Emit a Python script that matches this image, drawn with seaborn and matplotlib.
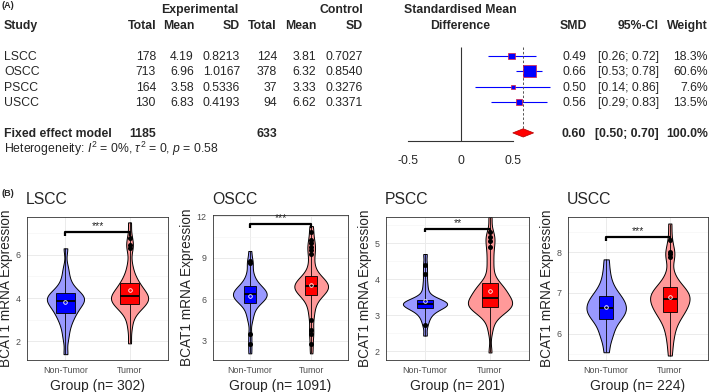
import numpy as np
import pandas as pd
import matplotlib
matplotlib.use("Agg")
import matplotlib.pyplot as plt
from matplotlib.patches import Polygon
from matplotlib.ticker import FixedLocator
import seaborn as sns

# ---------------- (A) meta-analysis data ----------------
studies = ["LSCC", "OSCC", "PSCC", "USCC"]
exp_total = [178, 713, 164, 130]
exp_mean = [4.19, 6.96, 3.58, 6.83]
exp_sd = [0.8213, 1.0167, 0.5336, 0.4193]
ctrl_total = [124, 378, 37, 94]
ctrl_mean = [3.81, 6.32, 3.33, 6.62]
ctrl_sd = [0.7027, 0.8540, 0.3276, 0.3371]
smd = [0.49, 0.66, 0.50, 0.56]
ci_low = [0.26, 0.53, 0.14, 0.29]
ci_high = [0.72, 0.78, 0.86, 0.83]
weight = [18.3, 60.6, 7.6, 13.5]
fixed_label = "Fixed effect model"
fixed_exp_total = 1185
fixed_ctrl_total = 633
fixed_smd = 0.60
fixed_ci_low = 0.50
fixed_ci_high = 0.70
fixed_weight = 100.0
forest_ticks = [-0.5, 0, 0.5]
forest_tick_labels = ["-0.5", "0", "0.5"]
heterogeneity = r"Heterogeneity: $I^2$ = 0%, $\tau^2$ = 0, $p$ = 0.58"

# ---------------- (B) expression data ----------------
panel_names = ["LSCC", "OSCC", "PSCC", "USCC"]
group_names = ["Non-Tumor", "Tumor"]
group_n = [302, 1091, 201, 224]

lscc_normal = [1.4, 2.1, 2.5, 2.8, 3.0, 3.15, 3.3, 3.4, 3.5, 3.6, 3.7, 3.78, 3.85,
               3.9, 3.95, 4.0, 4.05, 4.1, 4.2, 4.25, 4.35, 4.5, 4.7, 5.0, 5.4, 6.3]
lscc_tumor = [1.9, 2.6, 3.0, 3.3, 3.45, 3.55, 3.6, 3.65, 3.72, 3.8, 3.88, 3.9, 3.95,
              4.0, 4.02, 4.05, 4.1, 4.15, 4.2, 4.28, 4.36, 4.45, 4.55, 4.62, 4.7,
              4.85, 5.0, 5.25, 5.6, 6.3, 6.45, 6.8, 7.5]
lscc_normal_out = []
lscc_tumor_out = [6.3, 6.45, 6.8]

oscc_normal = [2.1, 2.8, 3.5, 4.4, 4.8, 5.1, 5.35, 5.55, 5.7, 5.8, 5.88, 5.95, 6.02,
               6.09, 6.16, 6.22, 6.28, 6.33, 6.38, 6.44, 6.5, 6.56, 6.62, 6.69, 6.76,
               6.84, 6.92, 7.02, 7.15, 7.3, 7.5, 7.75, 8.1, 8.6, 8.8, 9.5]
oscc_tumor = [2.1, 2.8, 3.5, 3.8, 4.5, 4.9, 5.25, 5.55, 5.8, 6.0, 6.15, 6.27, 6.35,
              6.42, 6.5, 6.57, 6.63, 6.69, 6.75, 6.8, 6.85, 6.9, 6.94, 6.98, 7.03,
              7.08, 7.14, 7.2, 7.27, 7.34, 7.41, 7.48, 7.55, 7.62, 7.75, 7.95, 8.2,
              8.5, 8.9, 9.3, 9.55, 9.8, 10.05, 10.3, 10.9, 11.3]
oscc_normal_out = [2.8, 3.5, 8.6, 8.8]
oscc_tumor_out = [2.8, 3.5, 3.8, 4.5, 9.3, 9.55, 9.8, 10.05, 10.3, 10.9]

pscc_normal = [2.43, 2.72, 2.88, 2.98, 3.06, 3.12, 3.17, 3.2, 3.23, 3.25, 3.27, 3.29,
               3.3, 3.31, 3.34, 3.35, 3.36, 3.38, 3.39, 3.41, 3.43, 3.55, 3.7, 3.9,
               4.15, 4.4, 4.7]
pscc_tumor = [1.96, 2.55, 2.8, 2.95, 3.03, 3.08, 3.12, 3.16, 3.19, 3.22, 3.24, 3.26,
              3.28, 3.3, 3.32, 3.35, 3.38, 3.41, 3.44, 3.47, 3.5, 3.54, 3.58, 3.62,
              3.67, 3.7, 3.74, 3.78, 3.82, 3.86, 3.95, 4.1, 4.3, 4.5, 4.7, 4.9, 5.05,
              5.18, 5.3, 5.73]
pscc_normal_out = [2.72, 4.15, 4.4]
pscc_tumor_out = [4.9, 5.05, 5.18, 5.3]

uscc_normal = [5.54, 5.8, 5.95, 6.05, 6.16, 6.24, 6.32, 6.37, 6.42, 6.46, 6.5, 6.54,
               6.58, 6.61, 6.65, 6.69, 6.73, 6.77, 6.81, 6.86, 6.9, 6.95, 7.02, 7.1,
               7.2, 7.35, 7.55, 7.82]
uscc_tumor = [5.46, 5.75, 5.95, 6.1, 6.22, 6.32, 6.4, 6.46, 6.5, 6.54, 6.58, 6.62,
              6.66, 6.7, 6.74, 6.78, 6.81, 6.84, 6.87, 6.9, 6.93, 6.96, 6.99, 7.02,
              7.05, 7.08, 7.12, 7.18, 7.26, 7.36, 7.5, 7.88, 7.94, 8.0, 8.29, 8.7]
uscc_normal_out = []
uscc_tumor_out = [7.88, 7.94, 8.0, 8.29]

sig_y = [7.05, 11.45, 5.4, 8.37]
sig_labels = ["***", "***", "**", "***"]
y_ticks = [[2, 4, 6], [3, 6, 9, 12], [2, 3, 4, 5], [6, 7, 8]]
y_limits = [(1.13, 7.75), (1.62, 12.1), (1.75, 5.73), (5.35, 8.86)]

# ---------------- style ----------------
sns.set_style("white")
plt.rcParams["font.family"] = ["Liberation Sans", "DejaVu Sans"]
plt.rcParams["mathtext.fontset"] = "custom"
plt.rcParams["mathtext.rm"] = "Liberation Sans"
plt.rcParams["mathtext.it"] = "Liberation Sans:italic"
plt.rcParams["mathtext.bf"] = "Liberation Sans:bold"

W, H = 709, 392
fig = plt.figure(figsize=(W / 100, H / 100), dpi=100)
FS = 8.8


def T(x, y, s, ha="left", size=FS, **kw):
    fig.text(x / W, 1 - (y + 1) / H, s, ha=ha, va="center", fontsize=size, **kw)


def add_ax(l, r, t, b):
    return fig.add_axes([l / W, 1 - b / H, (r - l) / W, (b - t) / H])


# ---------------- (A) table ----------------
T(2, 5, "(A)", size=6.5, weight="bold")
T(200, 9, "Experimental", ha="center", weight="bold")
T(363, 9, "Control", ha="right", weight="bold")
T(460, 9, "Standardised Mean", ha="center", weight="bold")
hy = 25
T(4, hy, "Study", weight="bold")
T(156, hy, "Total", ha="right", weight="bold")
T(194, hy, "Mean", ha="right", weight="bold")
T(240, hy, "SD", ha="right", weight="bold")
T(277, hy, "Total", ha="right", weight="bold")
T(316, hy, "Mean", ha="right", weight="bold")
T(363, hy, "SD", ha="right", weight="bold")
T(460, hy, "Difference", ha="center", weight="bold")
T(573, hy, "SMD", ha="center", weight="bold")
T(659, hy, "95%-CI", ha="right", weight="bold")
T(708, hy, "Weight", ha="right", weight="bold")

row_px = [56, 71, 87, 102]
for i, s in enumerate(studies):
    y = row_px[i]
    T(4, y, s)
    T(156, y, f"{exp_total[i]}", ha="right")
    T(194, y, f"{exp_mean[i]:.2f}", ha="right")
    T(240, y, f"{exp_sd[i]:.4f}", ha="right")
    T(277, y, f"{ctrl_total[i]}", ha="right")
    T(316, y, f"{ctrl_mean[i]:.2f}", ha="right")
    T(363, y, f"{ctrl_sd[i]:.4f}", ha="right")
    T(586, y, f"{smd[i]:.2f}", ha="right")
    T(659, y, f"[{ci_low[i]:.2f}; {ci_high[i]:.2f}]", ha="right")
    T(708, y, f"{weight[i]:.1f}%", ha="right")

fy = 133
T(4, fy, fixed_label, weight="bold")
T(156, fy, f"{fixed_exp_total}", ha="right", weight="bold")
T(277, fy, f"{fixed_ctrl_total}", ha="right", weight="bold")
T(586, fy, f"{fixed_smd:.2f}", ha="right", weight="bold")
T(659, fy, f"[{fixed_ci_low:.2f}; {fixed_ci_high:.2f}]", ha="right", weight="bold")
T(708, fy, f"{fixed_weight:.1f}%", ha="right", weight="bold")
T(4, 148, heterogeneity)

# ---------------- (A) forest plot ----------------
axf = add_ax(380, 560, 40.5, 141)
x0px, upx = 460.5, 104.5
axf.set_xlim((380 - x0px) / upx, (560 - x0px) / upx)
axf.set_ylim(6.526, 0)
rows = np.arange(1, len(studies) + 1)
axf.hlines(rows, ci_low, ci_high, color="#0000FF", lw=0.8, zorder=2)
forest_df = pd.DataFrame({"smd": smd, "row": rows, "weight": weight})
sns.scatterplot(data=forest_df, x="smd", y="row", size="weight", sizes=(0, 124.5),
                size_norm=(0, 100), marker="s", color="#0000FF", edgecolor="#E0203A",
                linewidth=0.5, legend=False, ax=axf, zorder=3)
fixed_row = 6
dh = 0.27
axf.add_patch(Polygon([(fixed_ci_low, fixed_row), (fixed_smd, fixed_row - dh),
                       (fixed_ci_high, fixed_row), (fixed_smd, fixed_row + dh)],
                      closed=True, facecolor="#FF0000", edgecolor="#B00000", lw=0.5, zorder=3))
axf.vlines(0, 0.42, 6.526, color="#333333", lw=0.8)
axf.vlines(fixed_smd, 0.42, fixed_row - dh, color="#555555", lw=0.7, linestyles=(0, (2.5, 2)))
for sp in ["top", "left", "right"]:
    axf.spines[sp].set_visible(False)
axf.spines["bottom"].set_bounds(-0.5, 0.5)
axf.spines["bottom"].set_color("#333333")
axf.spines["bottom"].set_linewidth(0.8)
axf.set_xticks(forest_ticks)
axf.set_xticklabels(forest_tick_labels)
axf.tick_params(axis="x", direction="out", length=5, width=0.8, color="#333333",
                labelsize=FS, pad=5)
axf.set_yticks([])
axf.set_xlabel("")
axf.set_ylabel("")
axf.patch.set_alpha(0)

# ---------------- (B) violin panels ----------------
T(2, 192, "(B)", size=6.5, weight="bold")
panel_data = [
    (lscc_normal, lscc_tumor, lscc_normal_out, lscc_tumor_out),
    (oscc_normal, oscc_tumor, oscc_normal_out, oscc_tumor_out),
    (pscc_normal, pscc_tumor, pscc_normal_out, pscc_tumor_out),
    (uscc_normal, uscc_tumor, uscc_normal_out, uscc_tumor_out),
]
panel_box = [(27, 168, 217, 360), (213, 348, 215, 360), (386, 529, 217, 360), (568, 708, 217, 360)]
violin_width = [0.58, 0.55, 0.68, 0.62]
box_width = [0.3, 0.2, 0.25, 0.22]
bw_adj = [0.55, 0.5, 0.5, 0.6]
violin_pal = {"Non-Tumor": "#9999FF", "Tumor": "#FF9999"}
box_pal = {"Non-Tumor": "#0000FF", "Tumor": "#FF0000"}

for k, name in enumerate(panel_names):
    nt, tu, nt_out, tu_out = panel_data[k]
    df = pd.DataFrame({"group": [group_names[0]] * len(nt) + [group_names[1]] * len(tu),
                       "value": nt + tu})
    dout = pd.DataFrame({"group": [group_names[0]] * len(nt_out) + [group_names[1]] * len(tu_out),
                         "value": nt_out + tu_out})
    l, r, t, b = panel_box[k]
    ax = add_ax(l, r, t, b)
    sns.violinplot(data=df, x="group", y="value", hue="group", order=group_names,
                   hue_order=group_names, palette=violin_pal, inner=None, cut=0,
                   density_norm="area", width=violin_width[k], linewidth=0.7,
                   linecolor="black", bw_adjust=bw_adj[k], saturation=1,
                   legend=False, ax=ax)
    sns.boxplot(data=df, x="group", y="value", hue="group", order=group_names,
                hue_order=group_names, palette=box_pal, width=box_width[k],
                whis=(0, 100), showfliers=False, showmeans=True,
                meanprops=dict(marker="o", markerfacecolor="none", markeredgecolor="white",
                               markersize=2.6, markeredgewidth=0.6),
                medianprops=dict(color="black", linewidth=1.3),
                capprops=dict(linewidth=0), linecolor="black", linewidth=0.6,
                saturation=1, legend=False, ax=ax)
    if len(dout):
        sns.stripplot(data=dout, x="group", y="value", order=group_names, color="black",
                      jitter=False, size=3.6, ax=ax)
    # significance bracket
    lo, hi = y_limits[k]
    tip = 0.025 * (hi - lo)
    ax.plot([0, 0, 1, 1], [sig_y[k] - tip, sig_y[k], sig_y[k], sig_y[k] - tip],
            color="black", lw=1.6, solid_capstyle="butt")
    ax.text(0.5, sig_y[k] + 0.005 * (hi - lo), sig_labels[k], ha="center", va="bottom",
            fontsize=7.5)
    ax.set_xlim(-0.6, 1.6)
    ax.set_ylim(lo, hi)
    ax.set_yticks(y_ticks[k])
    ticks = y_ticks[k]
    step = ticks[1] - ticks[0]
    minors = [v + step / 2 for v in [ticks[0] - step] + ticks]
    ax.yaxis.set_minor_locator(FixedLocator(minors))
    ax.set_axisbelow(True)
    ax.grid(True, which="major", color="#EBEBEB", lw=0.7)
    ax.grid(True, which="minor", axis="y", color="#F3F3F3", lw=0.4)
    ax.tick_params(which="minor", length=0)
    ax.tick_params(which="major", length=2.5, width=0.6, color="#333333",
                   labelsize=6.4, labelcolor="#4D4D4D", pad=2)
    for sp in ax.spines.values():
        sp.set_color("#333333")
        sp.set_linewidth(0.6)
    ax.set_xlabel(f"Group (n= {group_n[k]})", fontsize=10, labelpad=2.5)
    ax.set_ylabel("BCAT1 mRNA Expression", fontsize=9.8, labelpad=2)
    T(l - 1, 199, name, size=11.3)

fig.savefig("out.png", dpi=100)
